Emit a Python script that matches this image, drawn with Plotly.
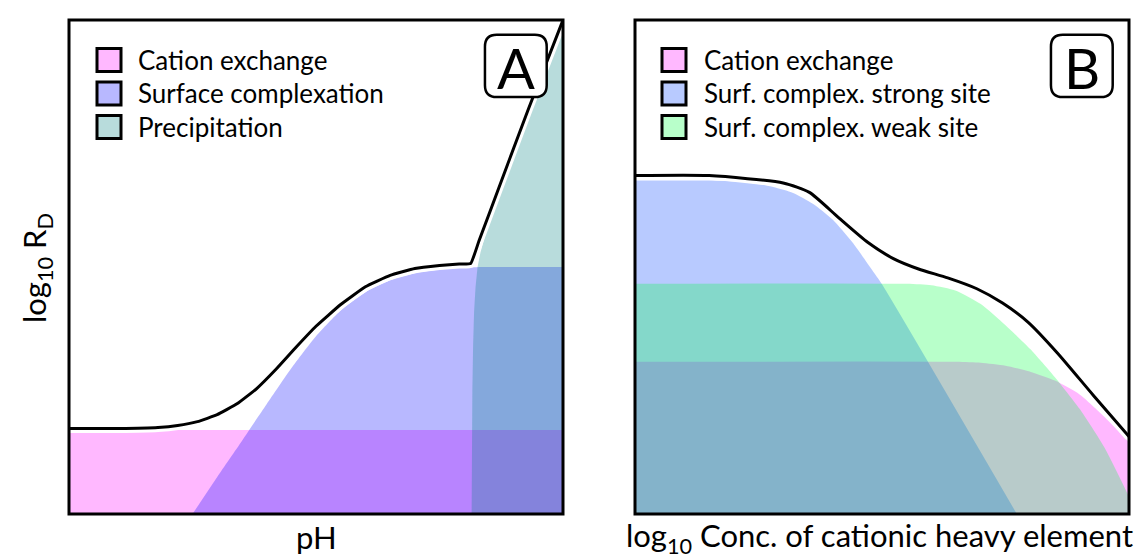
import plotly.graph_objects as go

# ---------------- data (normalised axis units, 0..1) ----------------
# Panel A : log10 R_D versus pH
a_names = ["Cation exchange", "Surface complexation", "Precipitation"]
a_colors = ["rgba(255,0,255,0.28)", "rgba(0,0,255,0.28)", "rgba(0,128,128,0.28)"]

a_cat_x = [0.0, 1.0]
a_cat_y = [0.170, 0.170]

a_surf_x = [0.25, 0.30, 0.35, 0.40, 0.45, 0.50, 0.55, 0.60, 0.65, 0.70, 0.75, 0.80, 0.85, 1.00]
a_surf_y = [0.00, 0.075, 0.148, 0.222, 0.295, 0.360, 0.412, 0.449, 0.473, 0.487, 0.495, 0.499, 0.500, 0.500]

a_prec_x = [0.815, 0.8155, 0.8165, 0.818, 0.820, 0.823, 0.827, 0.833, 0.847, 0.900, 0.950, 1.000]
a_prec_y = [0.000, 0.120, 0.250, 0.340, 0.410, 0.460, 0.500, 0.530, 0.580, 0.720, 0.855, 0.990]

a_tot_x = [0.00, 0.10, 0.18, 0.22, 0.26, 0.30, 0.34, 0.38, 0.42, 0.46, 0.50, 0.55, 0.60,
           0.65, 0.70, 0.75, 0.79, 0.813, 0.83, 0.87, 0.93, 1.00]
a_tot_y = [0.173, 0.173, 0.175, 0.179, 0.187, 0.201, 0.223, 0.254, 0.294, 0.338, 0.380, 0.424, 0.460,
           0.483, 0.497, 0.503, 0.506, 0.507, 0.553, 0.660, 0.820, 1.000]

# Panel B : log10 R_D versus log10 concentration
b_names = ["Cation exchange", "Surf. complex. strong site", "Surf. complex. weak site"]
b_colors = ["rgba(255,0,255,0.28)", "rgba(0,64,255,0.28)", "rgba(0,255,64,0.28)"]

b_cat_x = [0.00, 0.65, 0.70, 0.75, 0.80, 0.85, 0.90, 0.95, 1.00]
b_cat_y = [0.308, 0.308, 0.306, 0.300, 0.288, 0.270, 0.242, 0.197, 0.145]

b_strong_x = [0.00, 0.15, 0.22, 0.28, 0.32, 0.36, 0.40, 0.44, 0.48, 0.50, 0.773]
b_strong_y = [0.675, 0.675, 0.672, 0.662, 0.650, 0.628, 0.596, 0.550, 0.494, 0.465, 0.000]

b_weak_x = [0.00, 0.55, 0.60, 0.65, 0.70, 0.75, 0.80, 0.85, 0.90, 0.95, 1.00]
b_weak_y = [0.466, 0.466, 0.463, 0.452, 0.425, 0.382, 0.334, 0.277, 0.213, 0.135, 0.035]

b_tot_x = [0.00, 0.15, 0.30, 0.353, 0.412, 0.471, 0.523, 0.574, 0.633, 0.692, 0.744, 0.796, 0.855, 0.928, 1.00]
b_tot_y = [0.685, 0.685, 0.670, 0.651, 0.600, 0.550, 0.517, 0.496, 0.478, 0.456, 0.427, 0.388, 0.326, 0.240, 0.157]

panel_labels = ["A", "B"]
x_titles = ["pH", "log<sub>10</sub> Conc. of cationic heavy element"]
y_title = "log<sub>10</sub> R<sub>D</sub>"

FONT = "Lato"
W, H = 1148, 558

fig = go.Figure()

def add_fill(x, y, color, xa, ya, shape="linear"):
    fig.add_trace(go.Scatter(x=x, y=y, mode="lines", fill="tozeroy", fillcolor=color,
                             line=dict(width=0, shape=shape, smoothing=0.6), hoverinfo="skip",
                             showlegend=False, xaxis=xa, yaxis=ya))

def add_total(x, y, xa, ya, smoothing):
    fig.add_trace(go.Scatter(x=x, y=y, mode="lines",
                             line=dict(color="white", width=9, shape="spline", smoothing=smoothing),
                             hoverinfo="skip", showlegend=False, xaxis=xa, yaxis=ya))
    fig.add_trace(go.Scatter(x=x, y=y, mode="lines",
                             line=dict(color="black", width=3, shape="spline", smoothing=smoothing),
                             hoverinfo="skip", showlegend=False, xaxis=xa, yaxis=ya))

# Panel A
add_fill(a_cat_x, a_cat_y, a_colors[0], "x", "y")
add_fill(a_surf_x, a_surf_y, a_colors[1], "x", "y", "spline")
add_fill(a_prec_x, a_prec_y, a_colors[2], "x", "y")
add_total(a_tot_x, a_tot_y, "x", "y", 0.35)

# Panel B
add_fill(b_cat_x, b_cat_y, b_colors[0], "x2", "y2", "spline")
add_fill(b_strong_x, b_strong_y, b_colors[1], "x2", "y2", "spline")
add_fill(b_weak_x, b_weak_y, b_colors[2], "x2", "y2", "spline")
add_total(b_tot_x, b_tot_y, "x2", "y2", 0.6)

# geometry (pixels)
pA = (61, 555)
pB = (627, 1121)
top, bot = 12, 506

ax_common = dict(range=[0, 1], showgrid=False, zeroline=False, showticklabels=False, ticks="",
                 showline=False, fixedrange=True)
fig.update_layout(
    width=W, height=H, margin=dict(l=0, r=0, t=0, b=0),
    paper_bgcolor="white", plot_bgcolor="white", showlegend=False,
    xaxis=dict(domain=[pA[0] / W, pA[1] / W], **ax_common),
    yaxis=dict(domain=[(H - bot) / H, (H - top) / H], **ax_common),
    xaxis2=dict(domain=[pB[0] / W, pB[1] / W], anchor="y2", **ax_common),
    yaxis2=dict(domain=[(H - bot) / H, (H - top) / H], anchor="x2", **ax_common),
)

shapes = []
annotations = []
for i, (xr, yr, p) in enumerate([("x", "y", pA), ("x2", "y2", pB)]):
    # frame
    shapes.append(dict(type="rect", xref=f"{xr} domain", yref=f"{yr} domain", x0=0, x1=1, y0=0, y1=1,
                       line=dict(color="black", width=3), layer="above"))
    # rounded label box
    x0, x1, y0, y1 = 0.842, 0.967, 0.844, 0.970
    r = 0.024
    path = (f"M {x0+r},{y0} L {x1-r},{y0} Q {x1},{y0} {x1},{y0+r} L {x1},{y1-r} Q {x1},{y1} {x1-r},{y1} "
            f"L {x0+r},{y1} Q {x0},{y1} {x0},{y1-r} L {x0},{y0+r} Q {x0},{y0} {x0+r},{y0} Z")
    shapes.append(dict(type="path", xref=xr, yref=yr, path=path, fillcolor="white",
                       line=dict(color="black", width=2.5), layer="above"))
    annotations.append(dict(x=(x0 + x1) / 2, y=(y0 + y1) / 2 - 0.003, xref=xr, yref=yr, text=panel_labels[i],
                            showarrow=False, font=dict(family=FONT, size=56, color="black"),
                            xanchor="center", yanchor="middle"))
    # x title
    annotations.append(dict(x=((p[0] + p[1]) / 2 - 3 * i) / W, y=1 - 529 / H, xref="paper", yref="paper",
                            text=x_titles[i], showarrow=False, font=dict(family=FONT, size=31, color="black"),
                            xanchor="center", yanchor="middle"))

# legends
legend_sets = [(a_names, a_colors, 89, 128), (b_names, b_colors, 654, 694)]
for names, colors, sx, tx in legend_sets:
    for k, (nm, col) in enumerate(zip(names, colors)):
        cy = 52 + 33.5 * k
        shapes.append(dict(type="rect", xref="paper", yref="paper",
                           x0=sx / W, x1=(sx + 24) / W, y0=1 - (cy - 11.5) / H, y1=1 - (cy + 11.5) / H,
                           fillcolor=col, line=dict(color="black", width=3), layer="above"))
        annotations.append(dict(x=tx / W, y=1 - cy / H, xref="paper", yref="paper", text=nm,
                                showarrow=False, font=dict(family=FONT, size=26, color="black"),
                                xanchor="left", yanchor="middle"))

annotations.append(dict(x=28 / W, y=1 - 260 / H, xref="paper", yref="paper", text=y_title, textangle=-90,
                        showarrow=False, font=dict(family=FONT, size=31, color="black"),
                        xanchor="center", yanchor="middle"))

fig.update_layout(shapes=shapes, annotations=annotations)
fig.write_html("out.html")
